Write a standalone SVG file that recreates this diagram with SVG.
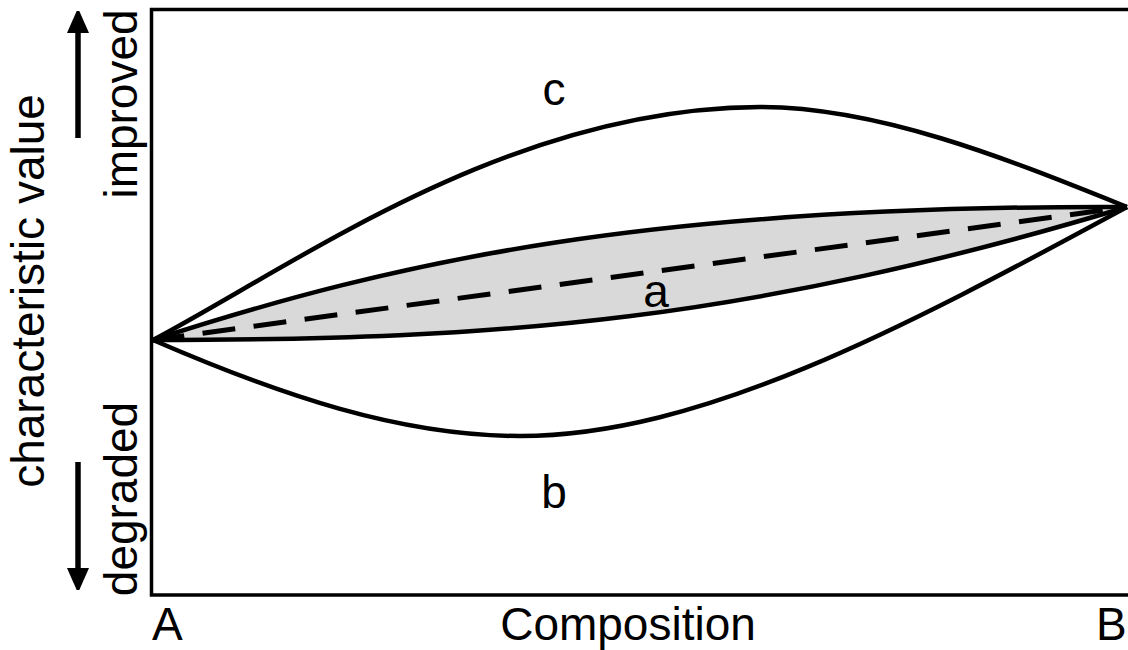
<svg xmlns="http://www.w3.org/2000/svg" width="1128" height="650" viewBox="0 0 1128 650">
  <style>
    .lbl { font-family: "Liberation Sans", Arial, sans-serif; font-size: 46px; fill: #000; }
    .curve { fill: none; stroke: #000; stroke-width: 4.5; stroke-linejoin: round; }
    .frame { fill: none; stroke: #000; stroke-width: 3.5; }
  </style>
  <defs>
    <marker id="ah" viewBox="0 0 22 25" refX="0" refY="12.5" markerWidth="22" markerHeight="25" markerUnits="userSpaceOnUse" orient="auto">
      <path d="M0,1.5 L25,12.5 L0,23.5 Z" fill="#000"/>
    </marker>
  </defs>
  <rect width="1128" height="650" fill="#fff"/>

  <g id="band-a">
    <path d="M153,340 C400,260 650,205 1127,207 C747,321 503,340 153,340 Z" fill="#d9d9d9" stroke="none"/>
    <path class="curve" d="M153,340 C400,260 650,205 1127,207"/>
    <path class="curve" d="M153,340 C503,340 747,321 1127,207"/>
    <path d="M153,340 L1127,207" fill="none" stroke="#000" stroke-width="5" stroke-dasharray="33 18.5" stroke-dashoffset="-50"/>
  </g>

  <g id="curve-c">
    <path class="curve" d="M153,340 C300,262 510,108 760,107 C880,107 1010,160 1127,207"/>
  </g>

  <g id="curve-b">
    <path class="curve" d="M153,340 C280,395 400,436 520,436 C700,436 900,330 1127,207"/>
  </g>

  <g id="frame">
    <path class="frame" d="M1130,9.5 H151.5 V595 H1130"/>
  </g>

  <g id="arrows">
    <line x1="78" y1="138" x2="78" y2="33" stroke="#000" stroke-width="5.5" marker-end="url(#ah)"/>
    <line x1="78" y1="462" x2="78" y2="568" stroke="#000" stroke-width="5.5" marker-end="url(#ah)"/>
  </g>

  <g id="labels">
    <text class="lbl" x="554" y="105" text-anchor="middle">c</text>
    <text class="lbl" x="656" y="307" text-anchor="middle">a</text>
    <text class="lbl" x="554" y="508" text-anchor="middle">b</text>
    <text class="lbl" x="152" y="640">A</text>
    <text class="lbl" x="628" y="640" text-anchor="middle">Composition</text>
    <text class="lbl" x="1096" y="640">B</text>
    <text class="lbl" transform="translate(44,291) rotate(-90)" text-anchor="middle">characteristic value</text>
    <text class="lbl" transform="translate(137,104) rotate(-90)" text-anchor="middle">improved</text>
    <text class="lbl" transform="translate(137,499) rotate(-90)" text-anchor="middle">degraded</text>
  </g>
</svg>
